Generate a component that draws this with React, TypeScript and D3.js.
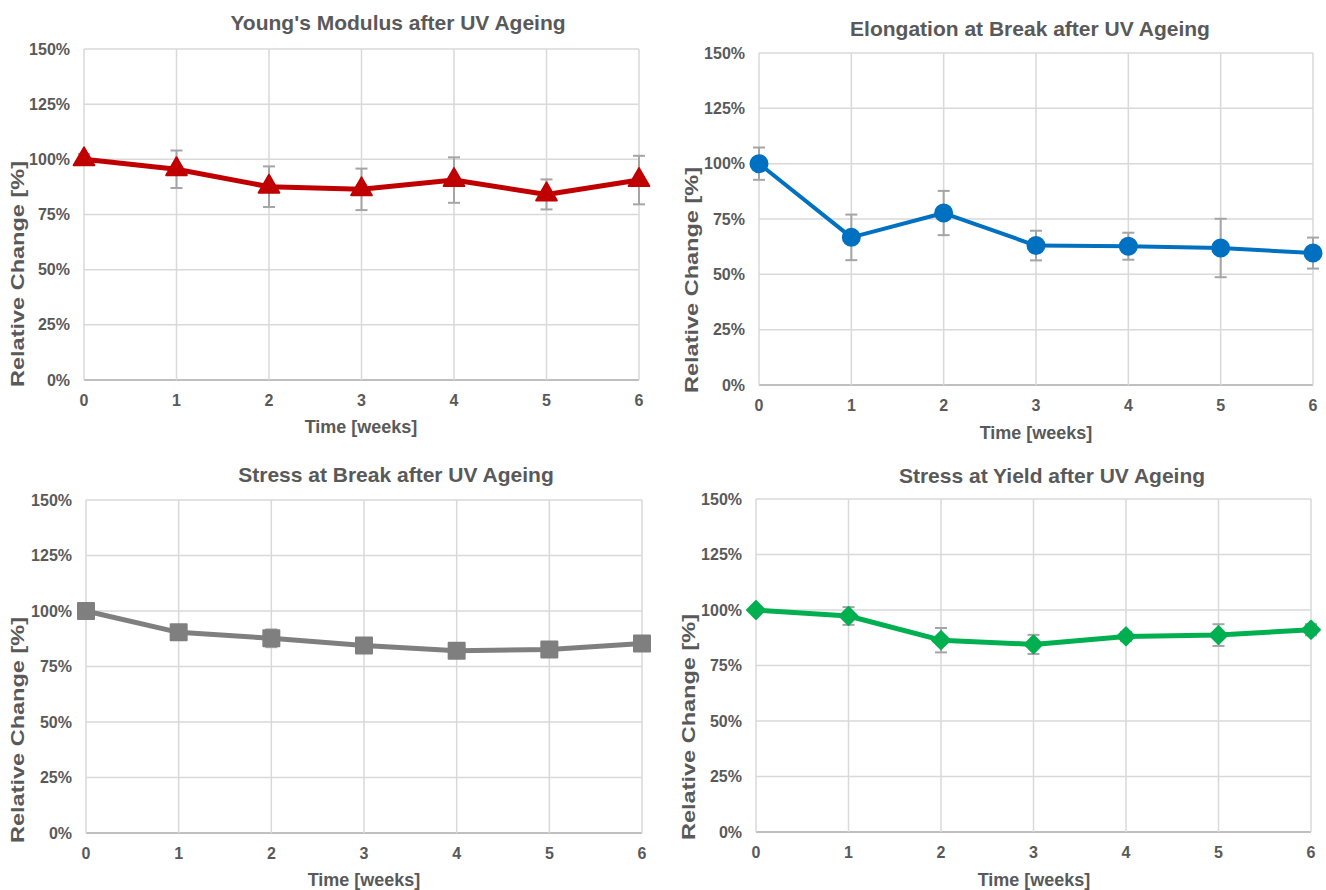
import * as d3 from "d3";
import React from "react";

// time axis (weeks) and tick values
const weeks = [0, 1, 2, 3, 4, 5, 6];
const yTicks = [0, 25, 50, 75, 100, 125, 150];

// relative change [%] and error (+/-) per series
const youngsModulus = [100, 95.5, 87.6, 86.4, 90.6, 84.1, 90.6];
const youngsModulusErr = [2.5, 8.5, 9.2, 9.4, 10.3, 6.8, 11];

const elongationBreak = [100, 66.7, 77.7, 63.0, 62.7, 61.9, 59.6];
const elongationBreakErr = [7.3, 10.3, 10, 6.7, 6.1, 13.2, 7];

const stressBreak = [100, 90.4, 87.7, 84.5, 82.1, 82.7, 85.4];
const stressBreakErr = [1, 1.5, 4, 1.5, 1.5, 1.5, 1.5];

const stressYield = [100, 97.3, 86.4, 84.5, 88.1, 88.7, 91.1];
const stressYieldErr = [1, 4, 5.5, 4.3, 2, 4.9, 2.5];

const titles = [
  "Young's Modulus after UV Ageing",
  "Elongation at Break after UV Ageing",
  "Stress at Break after UV Ageing",
  "Stress at Yield after UV Ageing",
];

const textColor = "#595959";
const gridColor = "#D9D9D9";
const errColor = "#A5A5A5";
const font = "'Liberation Sans', Arial, sans-serif";

type PanelProps = {
  left: number;
  right: number;
  top: number;
  bottom: number;
  titleX: number;
  titleY: number;
  xLabelX: number;
  xLabelY: number;
  yLabelX: number;
  yLabelY: number;
  title: string;
  values: number[];
  errors: number[];
  color: string;
  lineWidth: number;
  marker: "triangle" | "circle" | "square" | "diamond";
};

const markerPath = (kind: PanelProps["marker"]) => {
  if (kind === "triangle") return d3.symbol(d3.symbolTriangle, 185)()!;
  if (kind === "circle") return d3.symbol(d3.symbolCircle, 227)()!;
  if (kind === "square") return d3.symbol(d3.symbolSquare, 256)()!;
  return d3.symbol(d3.symbolSquare, 160)()!;
};

const Panel = (p: PanelProps) => {
  const x = d3.scaleLinear().domain([0, 6]).range([p.left, p.right]);
  const y = d3.scaleLinear().domain([0, 150]).range([p.bottom, p.top]);
  const line = d3
    .line<number>()
    .x((_, i) => x(weeks[i]))
    .y((d) => y(d));
  const sym = markerPath(p.marker);

  return (
    <g fontFamily={font} fontWeight="bold" fill={textColor}>
      {/* grid */}
      {yTicks.map((t) => (
        <line
          key={"h" + t}
          x1={p.left}
          x2={p.right}
          y1={y(t)}
          y2={y(t)}
          stroke={t === 0 ? "#BFBFBF" : gridColor}
          strokeWidth={t === 0 ? 2 : 1.5}
        />
      ))}
      {weeks.map((w) => (
        <line
          key={"v" + w}
          x1={x(w)}
          x2={x(w)}
          y1={p.top}
          y2={p.bottom}
          stroke={gridColor}
          strokeWidth={1.5}
        />
      ))}
      {/* tick labels */}
      {yTicks.map((t) => (
        <text
          key={"yt" + t}
          x={p.left - 14}
          y={y(t)}
          textAnchor="end"
          dominantBaseline="central"
          fontSize={16}
        >
          {t + "%"}
        </text>
      ))}
      {weeks.map((w) => (
        <text
          key={"xt" + w}
          x={x(w)}
          y={p.bottom + 20}
          textAnchor="middle"
          dominantBaseline="central"
          fontSize={16}
        >
          {w}
        </text>
      ))}
      {/* titles */}
      <text x={p.titleX} y={p.titleY} textAnchor="middle" dominantBaseline="central" fontSize={21}>
        {p.title}
      </text>
      <text x={p.xLabelX} y={p.xLabelY} textAnchor="middle" dominantBaseline="central" fontSize={18}>
        Time [weeks]
      </text>
      <text
        transform={`translate(${p.yLabelX}, ${p.yLabelY}) rotate(-90)`}
        textAnchor="middle"
        dominantBaseline="central"
        fontSize={19}
        textLength={226}
        lengthAdjust="spacingAndGlyphs"
      >
        Relative Change [%]
      </text>
      {/* error bars */}
      {p.values.map((v, i) => {
        const cx = x(weeks[i]);
        const y0 = y(v - p.errors[i]);
        const y1 = y(v + p.errors[i]);
        return (
          <g key={"e" + i} stroke={errColor} strokeWidth={2} fill="none">
            <line x1={cx} x2={cx} y1={y0} y2={y1} />
            <line x1={cx - 6} x2={cx + 6} y1={y0} y2={y0} />
            <line x1={cx - 6} x2={cx + 6} y1={y1} y2={y1} />
          </g>
        );
      })}
      {/* series line */}
      <path
        d={line(p.values) ?? ""}
        fill="none"
        stroke={p.color}
        strokeWidth={p.lineWidth}
        strokeLinejoin="round"
      />
      {p.values.map((v, i) => (
        <path
          key={"m" + i}
          d={sym}
          transform={`translate(${x(weeks[i])}, ${y(v)})${p.marker === "diamond" ? " rotate(45)" : ""}`}
          fill={p.color}
          stroke={p.color}
          strokeWidth={2}
          strokeLinejoin="round"
        />
      ))}
    </g>
  );
};

export default function App() {
  return (
    <svg
      width={1326}
      height={890}
      style={{ position: "absolute", left: 0, top: 0, background: "white" }}
    >
      <Panel
        left={84} right={639} top={49} bottom={380}
        titleX={398} titleY={22} xLabelX={361} xLabelY={427} yLabelX={17} yLabelY={274}
        title={titles[0]} values={youngsModulus} errors={youngsModulusErr}
        color="#C00000" lineWidth={5} marker="triangle"
      />
      <Panel
        left={759} right={1313} top={53} bottom={385}
        titleX={1030} titleY={28} xLabelX={1036} xLabelY={433} yLabelX={691} yLabelY={280}
        title={titles[1]} values={elongationBreak} errors={elongationBreakErr}
        color="#0070C0" lineWidth={4} marker="circle"
      />
      <Panel
        left={86} right={642} top={500} bottom={833}
        titleX={396} titleY={474} xLabelX={364} xLabelY={880} yLabelX={17} yLabelY={730}
        title={titles[2]} values={stressBreak} errors={stressBreakErr}
        color="#7F7F7F" lineWidth={5} marker="square"
      />
      <Panel
        left={756} right={1311} top={499} bottom={832}
        titleX={1052} titleY={475} xLabelX={1034} xLabelY={880} yLabelX={688} yLabelY={727}
        title={titles[3]} values={stressYield} errors={stressYieldErr}
        color="#00B050" lineWidth={5} marker="diamond"
      />
    </svg>
  );
}
